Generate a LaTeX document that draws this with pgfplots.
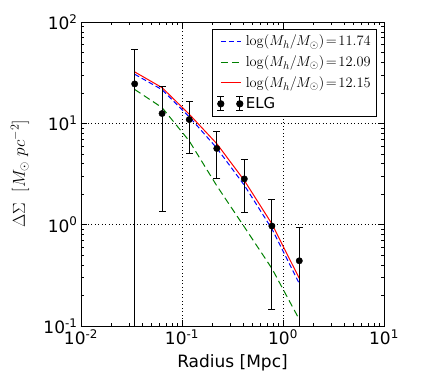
\documentclass[border=0pt]{standalone}
\usepackage[no-math]{fontspec}
\setmainfont{DejaVu Sans}
\usepackage{pgfplots}
\pgfplotsset{compat=1.18}
\pgfplotsset{
  shortline/.style={legend image code/.code={\draw[##1] (0pt,0pt) -- (20pt,0pt);}},
  elglegend/.style={legend image code/.code={
    \draw[black, line width=1pt] (0pt,-7pt) -- (0pt,7pt);
    \draw[black, line width=1pt] (-3.5pt,-7pt) -- (3.5pt,-7pt);
    \draw[black, line width=1pt] (-3.5pt,7pt) -- (3.5pt,7pt);
    \fill[black] (0pt,0pt) circle (3.2pt);
    \draw[black, line width=1pt] (19pt,-7pt) -- (19pt,7pt);
    \draw[black, line width=1pt] (15.5pt,-7pt) -- (22.5pt,-7pt);
    \draw[black, line width=1pt] (15.5pt,7pt) -- (22.5pt,7pt);
    \fill[black] (19pt,0pt) circle (3.2pt);
  }},
}

\begin{document}
\begin{tikzpicture}
\useasboundingbox (0pt,0pt) rectangle (436pt,384pt);
\begin{axis}[
    at={(81pt,58pt)}, anchor=south west,
    width=303pt, height=304pt, scale only axis,
    xmode=log, ymode=log,
    xmin=0.01, xmax=10, ymin=0.1, ymax=100,
    xtick={0.01,0.1,1,10},
    xticklabels={10\textsuperscript{-2},10\textsuperscript{-1},10\textsuperscript{0},10\textsuperscript{1}},
    ytick={0.1,1,10,100},
    yticklabels={10\textsuperscript{-1},10\textsuperscript{0},10\textsuperscript{1},10\textsuperscript{2}},
    grid=major, major grid style={black, line width=0.5pt, dash pattern=on 1pt off 2.5pt},
    tick align=inside,
    major tick length=6pt, minor tick length=3pt,
    every tick/.style={black, line width=0.6pt},
    axis line style={line width=0.8pt},
    tick label style={font=\fontsize{17}{20}\selectfont},
    xlabel={Radius [Mpc]}, ylabel={$\Delta\Sigma\ \ [M_\odot\ pc^{-2}]$},
    label style={font=\fontsize{17}{20}\selectfont},
    xlabel style={at={(axis description cs:0.5,-0.122)}, anchor=center},
    ylabel style={at={(axis description cs:-0.201,0.5)}, anchor=center},
    legend style={at={(0.977,0.978)}, anchor=north east, draw=black,
        line width=0.8pt, fill=white, font=\fontsize{15}{18}\selectfont,
        row sep=4.5pt, inner sep=4pt},
    legend cell align=left,
]
% model curves
\addplot[blue, line width=1pt, dash pattern=on 5pt off 3pt, shortline]
  coordinates {(0.034,30.5) (0.0635,21.5) (0.118,11.6) (0.221,5.7) (0.414,2.45) (0.776,0.91) (1.45,0.262)};
\addlegendentry{$\log(M_h/M_\odot)\!=\!11.74$}
\addplot[color={rgb,1:red,0;green,0.5;blue,0}, line width=1pt, dash pattern=on 7pt off 4pt, shortline]
  coordinates {(0.034,21.6) (0.0635,14.3) (0.118,6.7) (0.221,2.42) (0.414,0.95) (0.776,0.37) (1.45,0.116)};
\addlegendentry{$\log(M_h/M_\odot)\!=\!12.09$}
\addplot[red, line width=1pt, shortline]
  coordinates {(0.034,32.2) (0.0635,22.5) (0.118,12.3) (0.221,6.3) (0.414,2.73) (0.776,1.02) (1.45,0.295)};
\addlegendentry{$\log(M_h/M_\odot)\!=\!12.15$}
% ELG measurements
\addplot[only marks, mark=*, mark size=3.2pt, black, elglegend,
    error bars/.cd, y dir=both, y explicit,
    error bar style={black, line width=1pt},
    error mark options={rotate=90, mark size=3.5pt, black, line width=1pt}]
  coordinates {
    (0.034,24.5)   += (0,29.2)  -= (0,24.45)
    (0.0635,12.5)  += (0,10.7)  -= (0,11.15)
    (0.118,10.9)   += (0,5.7)   -= (0,5.9)
    (0.221,5.65)   += (0,2.75)  -= (0,2.77)
    (0.414,2.83)   += (0,1.54)  -= (0,1.51)
    (0.776,0.97)   += (0,0.82)  -= (0,0.824)
    (1.45,0.44)    += (0,0.5)   -= (0,0.42)
  };
\addlegendentry{ELG}
\end{axis}
\end{tikzpicture}
\end{document}
